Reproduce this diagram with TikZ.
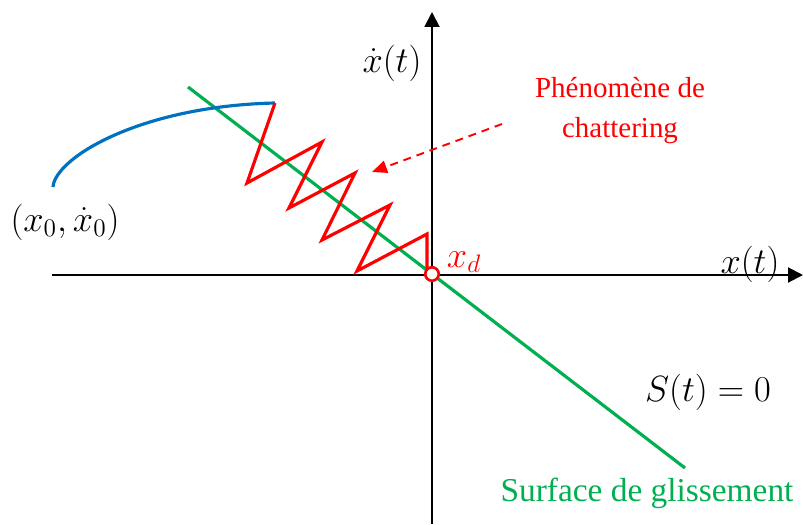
\documentclass[tikz,border=0pt]{standalone}
\usepackage{fontspec}
\setmainfont{Liberation Serif}
\usetikzlibrary{arrows.meta, positioning}
\definecolor{chattercolor}{RGB}{255,0,0}
\definecolor{surfacecolor}{RGB}{0,176,80}
\definecolor{trajcolor}{RGB}{0,112,192}

\begin{document}
\begin{tikzpicture}[x=0.02cm, y=-0.02cm,
    axis/.style={line width=1.1pt, -{Triangle[length=0.3cm, width=0.3cm]}},
    chatter/.style={chattercolor, line width=1.8pt, line join=miter},
    mathlabel/.style={font=\fontsize{20}{22}\selectfont, inner sep=0pt}]
\useasboundingbox (0,0) rectangle (803,524);
% axes
\coordinate (xmin) at (52,275);
\coordinate (xmax) at (803,275);
\coordinate (ymin) at (432,524);
\coordinate (ymax) at (432,12);
\draw[axis] (xmin) -- (xmax);
\draw[axis] (ymin) -- (ymax);
% sliding surface
\coordinate (surfa) at (188,87);
\coordinate (surfb) at (685,468);
\draw[surfacecolor, line width=1.8pt] (surfa) -- (surfb);
% trajectory
\coordinate (x0) at (53,187);
\coordinate (bend) at (275,103);
\draw[trajcolor, line width=1.8pt] (x0) .. controls (55,158) and (140,106) .. (bend);
\draw[chatter] (bend) -- (247,183) -- (322,142) -- (289,208) -- (355,173)
    -- (322,240) -- (390,205) -- (357,271) -- (427,234) -- (427,268);
\node[circle, draw=chattercolor, fill=white, line width=1.5pt, minimum size=0.27cm, inner sep=0pt] (xd0) at (432,274) {};
% labels
\node[mathlabel] (ylab) at (392,63) {$\dot{x}(t)$};
\node[mathlabel] (x0lab) at (65,222) {$(x_0,\dot{x}_0)$};
\node[mathlabel, text=chattercolor] (xdlab) at (464,262) {$x_d$};
\node[mathlabel] (xlab) at (750,264) {$x(t)$};
\node[mathlabel] (slab) at (708,392) {$S(t)=0$};
\node[text=surfacecolor, font=\fontsize{19}{22}\selectfont, inner sep=0pt] (surf) at (647,493) {Surface de glissement};
\node[text=chattercolor, font=\fontsize{16.5}{22.8}\selectfont, align=center, inner sep=0pt] (chat) at (620,111) {Phénomène de\\chattering};
% chattering arrow
\coordinate (chatfrom) at (502,124);
\coordinate (chatto) at (372,172);
\draw[chattercolor, line width=1.1pt, dash pattern=on 4.5pt off 3.4pt,
    -{Triangle[length=0.3cm, width=0.25cm]}] (chatfrom) -- (chatto);
\end{tikzpicture}
\end{document}
